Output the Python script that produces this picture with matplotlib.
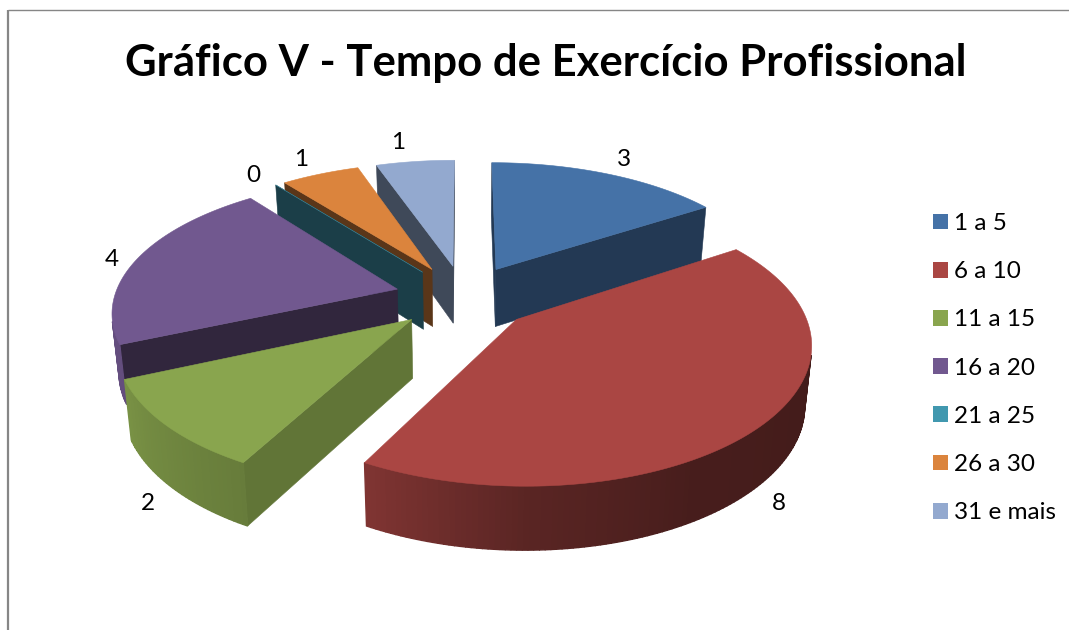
import numpy as np
import matplotlib
matplotlib.use("Agg")
import matplotlib.pyplot as plt
from matplotlib.patches import Polygon, Patch
from matplotlib.colors import to_rgb

# --- data ---
categories = ["1 a 5", "6 a 10", "11 a 15", "16 a 20", "21 a 25", "26 a 30", "31 e mais"]
values = [3, 8, 2, 4, 0, 1, 1]
colors = ["#4572A7", "#AA4643", "#89A54E", "#71588F", "#4198AF", "#DB843D", "#93A9CF"]
title = "Gráfico V - Tempo de Exercício Profissional"

# --- projection / style ---
label_radius = [1.16, 1.07, 1.04, 1.08, 1.12, 1.14, 1.10]
label_depth = [0, 1.05, 1.0, 0, 0, 0, 0]
label_dx = [1, 5, -14, -6, -7, -5, -14]
label_dy = [-1, 4, 11, 3, 0, -3, -10]
face_shade = [0.50, 0.50, 0.71, 0.43, 0.41, 0.41, 0.43]
CX, CY = 464.0, 297.0
A, B = 283.0, 132.0
PX, PY, PD = 0.152, 0.16, 0.08
H = 58.0
EXPLODE = 0.245
DRAW_ORDER = [6, 5, 4, 0, 3, 2, 1]
plt.rcParams["font.family"] = ["Lato", "DejaVu Sans"]


def project(u, v, depth=0.0):
    x = CX + A * u / (1.0 + PX * v) * (1 - 0.02 * depth)
    y = CY - B * v / (1.0 + PY * v) + H * depth / (1.0 + PD * v)
    return x, y


def area(pts):
    pts = np.asarray(pts)
    x, y = pts[:, 0], pts[:, 1]
    return 0.5 * np.sum(x * np.roll(y, -1) - np.roll(x, -1) * y)


def scale(c, f):
    return tuple(min(1, max(0, ch * f)) for ch in to_rgb(c))


def wall_shade(theta):
    return np.interp(np.degrees(theta), [100, 150, 180, 208, 246, 284], [0.39, 0.42, 0.53, 0.75, 0.88, 0.90])


fig = plt.figure(figsize=(10.69, 6.30), dpi=100)
ax = fig.add_axes([0, 0, 1, 1])
ax.set_xlim(0, 1069)
ax.set_ylim(630, 0)
ax.axis("off")

ax.plot([8, 8], [630, 10], color="#868686", lw=1.6, zorder=1, solid_capstyle="butt")
ax.plot([8, 1069], [10, 10], color="#868686", lw=1.0, zorder=1, solid_capstyle="butt")

total = sum(values)
bounds = np.cumsum([0] + values) / total * 2 * np.pi

z = 2
for idx in DRAW_ORDER:
    t0, t1 = bounds[idx], bounds[idx + 1]
    mid = (t0 + t1) / 2
    ou, ov = EXPLODE * np.sin(mid), EXPLODE * np.cos(mid)
    col = colors[idx]
    ts = np.linspace(t0, t1, max(2, int((t1 - t0) * 60)))
    us, vs = ou + np.sin(ts), ov + np.cos(ts)

    # straight cut faces
    for tedge, sign in ((t0, 1), (t1, -1)):
        eu, ev = ou + np.sin(tedge), ov + np.cos(tedge)
        q = [project(ou, ov), project(eu, ev), project(eu, ev, 1), project(ou, ov, 1)]
        if sign * area(q) < 0:
            fc = scale(col, face_shade[idx])
            ax.add_patch(Polygon(q, closed=True, fc=fc, ec=fc, lw=0.4, zorder=z))
            z += 1
    # rim
    for i in range(len(ts) - 1):
        q = [project(us[i], vs[i]), project(us[i + 1], vs[i + 1]),
             project(us[i + 1], vs[i + 1], 1), project(us[i], vs[i], 1)]
        if area(q) < 0:
            c = scale(col, wall_shade((ts[i] + ts[i + 1]) / 2))
            ax.add_patch(Polygon(q, closed=True, fc=c, ec=c, lw=1.0, zorder=z))
            z += 1
    # top
    top = [project(ou, ov)] + [project(a, b) for a, b in zip(us, vs)]
    ax.add_patch(Polygon(top, closed=True, fc=col, ec=col, lw=0.4, zorder=z))
    z += 1

    r = label_radius[idx]
    lx, ly = project(ou + r * np.sin(mid), ov + r * np.cos(mid), label_depth[idx])
    ax.text(lx + label_dx[idx], ly + label_dy[idx], str(values[idx]), ha="center", va="center",
            fontsize=17.5, color="black", zorder=500)

ax.text(546, 63, title, ha="center", va="center", fontsize=31.4, fontweight="bold", color="black")

handles = [Patch(fc=c, ec="none", label=l) for c, l in zip(colors, categories)]
leg = ax.legend(handles=handles, loc="upper left", bbox_to_anchor=(933 / 1069, 1 - 213 / 630),
                frameon=False, fontsize=17.5, handlelength=0.62, handleheight=0.62, handletextpad=0.25,
                labelspacing=1.12, borderaxespad=0, borderpad=0)

fig.savefig("out.png", dpi=100)
